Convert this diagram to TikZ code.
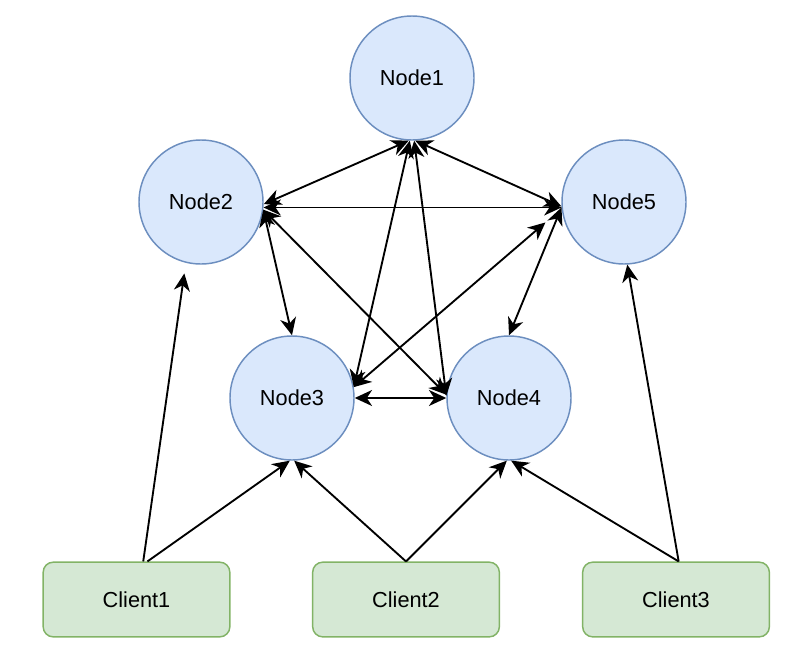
\documentclass[tikz,border=0pt]{standalone}
\usepackage{fontspec}
\setmainfont{Liberation Sans}
\usepackage{xcolor}
\usetikzlibrary{arrows.meta}
\definecolor{serverfill}{HTML}{DAE8FC}
\definecolor{serverline}{HTML}{6C8EBF}
\definecolor{clientfill}{HTML}{D5E8D4}
\definecolor{clientline}{HTML}{82B366}

\begin{document}
\begin{tikzpicture}[x=0.75pt,y=-0.75pt,
		server/.style={circle,draw=serverline,fill=serverfill,line width=1.1pt,
			minimum size=93pt,inner sep=0pt,font=\fontsize{16.3}{19}\selectfont},
		client/.style={rectangle,rounded corners=7.5pt,draw=clientline,fill=clientfill,
			line width=1.1pt,minimum width=140pt,minimum height=56pt,
			font=\fontsize{16.3}{19}\selectfont},
		link/.style={line width=1.4pt,{Stealth[length=13pt,width=12pt,inset=4pt]}-{Stealth[length=13pt,width=12pt,inset=4pt]}},
		req/.style={line width=1.4pt,-{Stealth[length=13pt,width=12pt,inset=4pt]}}]
		\useasboundingbox (0,0) rectangle (810,664);
		% cluster
		\node[server] (n1) at (412,78) {Node1};
		\node[server] (n2) at (201,202) {Node2};
		\node[server] (n5) at (624,202) {Node5};
		\node[server] (n3) at (292,398) {Node3};
		\node[server] (n4) at (509,398) {Node4};
		% clients
		\node[client] (c1) at (136.5,599.5) {Client1};
		\node[client] (c2) at (406,599.5) {Client2};
		\node[client] (c3) at (676,599.5) {Client3};
		% links between nodes
		\draw[link] (n1.-93) -- (n2.-2);
		\draw[link] (n1.-87) -- (n5.184);
		\draw[link] (n2.-5) -- (n5.185);
		\draw[link] (n1.-92) -- (n3.10);
		\draw[link] (n1.-88) -- (n4.178);
		\draw[link] (n2.-7) -- (n3.90);
		\draw[link] (n2.-7) -- (n4.177);
		\draw[link, shorten >=16pt] (n3.10) -- (n5.186);
		\draw[link] (n5.185) -- (n4.90);
		\draw[link] (n3.east) -- (n4.west);
		% requests from clients
		\draw[req, shorten >=8pt] (c1.80) -- (n2.-104);
		\draw[req] (c1.74) -- (n3.-92);
		\draw[req] (c2.north) -- (n3.-88);
		\draw[req] (c2.north) -- (n4.-92);
		\draw[req] (c3.86) -- (n4.-88);
		\draw[req] (c3.86) -- (n5.-87);
\end{tikzpicture}
\end{document}
